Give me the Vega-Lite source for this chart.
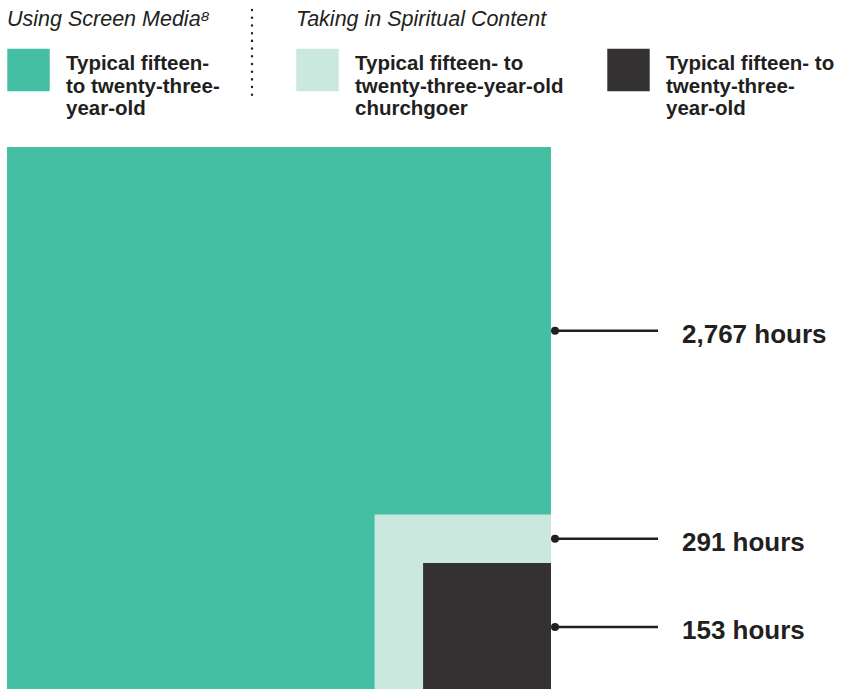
{
  "$schema": "https://vega.github.io/schema/vega-lite/v6.json",
  "width": 544,
  "height": 544,
  "autosize": {"type": "none"},
  "padding": {"left": 7, "top": 147, "right": 292, "bottom": 0},
  "background": "#ffffff",
  "data": {
    "values": [
      {"key": "screen", "label": "Typical fifteen-|to twenty-three-|year-old", "hours": 2767, "next": 291, "text": "2,767 hours"},
      {"key": "churchgoer", "label": "Typical fifteen- to|twenty-three-year-old|churchgoer", "hours": 291, "next": 153, "text": "291 hours"},
      {"key": "typical", "label": "Typical fifteen- to|twenty-three-|year-old", "hours": 153, "next": 0, "text": "153 hours"}
    ]
  },
  "layer": [
    {
      "transform": [{"filter": "datum.key == 'screen'"}],
      "mark": {"type": "rect"},
      "encoding": {
        "x": {"field": "hours", "type": "quantitative", "scale": {"type": "sqrt", "domain": [0, 2767], "reverse": true, "nice": false, "zero": true}, "axis": null},
        "x2": {"datum": 0},
        "y": {"field": "hours", "type": "quantitative", "scale": {"type": "sqrt", "domain": [0, 2767], "nice": false, "zero": true}, "axis": null},
        "y2": {"datum": 0},
        "color": {
          "field": "label", "type": "nominal",
          "scale": {"range": ["#45bfa3"]},
          "legend": {
            "title": "Using Screen Media⁸",
            "orient": "none", "legendX": 0, "legendY": -138,
            "direction": "horizontal", "columns": 1,
            "labelExpr": "split(datum.label, '|')",
            "encoding": {"labels": {"update": {"lineHeight": {"value": 21}}}}
          }
        }
      }
    },
    {
      "transform": [{"filter": "datum.key != 'screen'"}],
      "mark": {"type": "rect"},
      "encoding": {
        "x": {"field": "hours", "type": "quantitative"},
        "x2": {"datum": 0},
        "y": {"field": "hours", "type": "quantitative"},
        "y2": {"datum": 0},
        "color": {
          "field": "label", "type": "nominal",
          "scale": {"domain": ["Typical fifteen- to|twenty-three-year-old|churchgoer", "Typical fifteen- to|twenty-three-|year-old"], "range": ["#cbe8de", "#333132"]},
          "legend": {
            "title": "Taking in Spiritual Content",
            "orient": "none", "legendX": 289, "legendY": -138,
            "direction": "horizontal", "columns": 2, "columnPadding": 43,
            "labelExpr": "split(datum.label, '|')",
            "encoding": {"labels": {"update": {"lineHeight": {"value": 21}}}}
          }
        }
      }
    },
    {
      "data": {"values": [{"divider": "groups"}]},
      "mark": {"type": "rule", "stroke": "#231f20", "strokeWidth": 2.4, "strokeCap": "round", "strokeDash": [0.1, 7.6]},
      "encoding": {
        "x": {"datum": 836, "type": "quantitative"},
        "y": {"datum": 4336, "type": "quantitative"},
        "y2": {"datum": 3299}
      }
    },
    {
      "transform": [{"calculate": "pow((sqrt(datum.hours) + sqrt(datum.next)) / 2, 2)", "as": "pointer"}],
      "layer": [
        {
          "mark": {"type": "point", "shape": "M0,0H2", "size": 10609, "filled": false, "stroke": "#231f20", "strokeWidth": 2.5, "opacity": 1, "xOffset": 4},
          "encoding": {
            "x": {"datum": 0, "type": "quantitative"},
            "y": {"field": "pointer", "type": "quantitative"}
          }
        },
        {
          "mark": {"type": "point", "shape": "circle", "size": 64, "filled": true, "fill": "#231f20", "opacity": 1, "xOffset": 4},
          "encoding": {
            "x": {"datum": 0, "type": "quantitative"},
            "y": {"field": "pointer", "type": "quantitative"}
          }
        },
        {
          "mark": {"type": "text", "align": "left", "baseline": "middle", "dx": 131, "dy": 4, "font": "Liberation Sans", "fontSize": 26, "fontWeight": "bold", "color": "#231f20"},
          "encoding": {
            "x": {"datum": 0, "type": "quantitative"},
            "y": {"field": "pointer", "type": "quantitative"},
            "text": {"field": "text"}
          }
        }
      ]
    }
  ],
  "resolve": {"scale": {"color": "independent"}},
  "config": {
    "view": {"stroke": null},
    "legend": {
      "padding": 0,
      "symbolType": "square",
      "symbolSize": 1800,
      "symbolStrokeWidth": 0,
      "symbolOpacity": 1,
      "labelFont": "Liberation Sans",
      "labelFontSize": 20.5,
      "labelFontWeight": "bold",
      "labelColor": "#231f20",
      "labelLimit": 0,
      "labelOffset": 16,
      "labelBaseline": "alphabetic",
      "titleFont": "Liberation Sans",
      "titleFontSize": 21.5,
      "titleFontStyle": "italic",
      "titleFontWeight": "normal",
      "titleColor": "#231f20",
      "titleLimit": 0,
      "titlePadding": 18
    }
  }
}
